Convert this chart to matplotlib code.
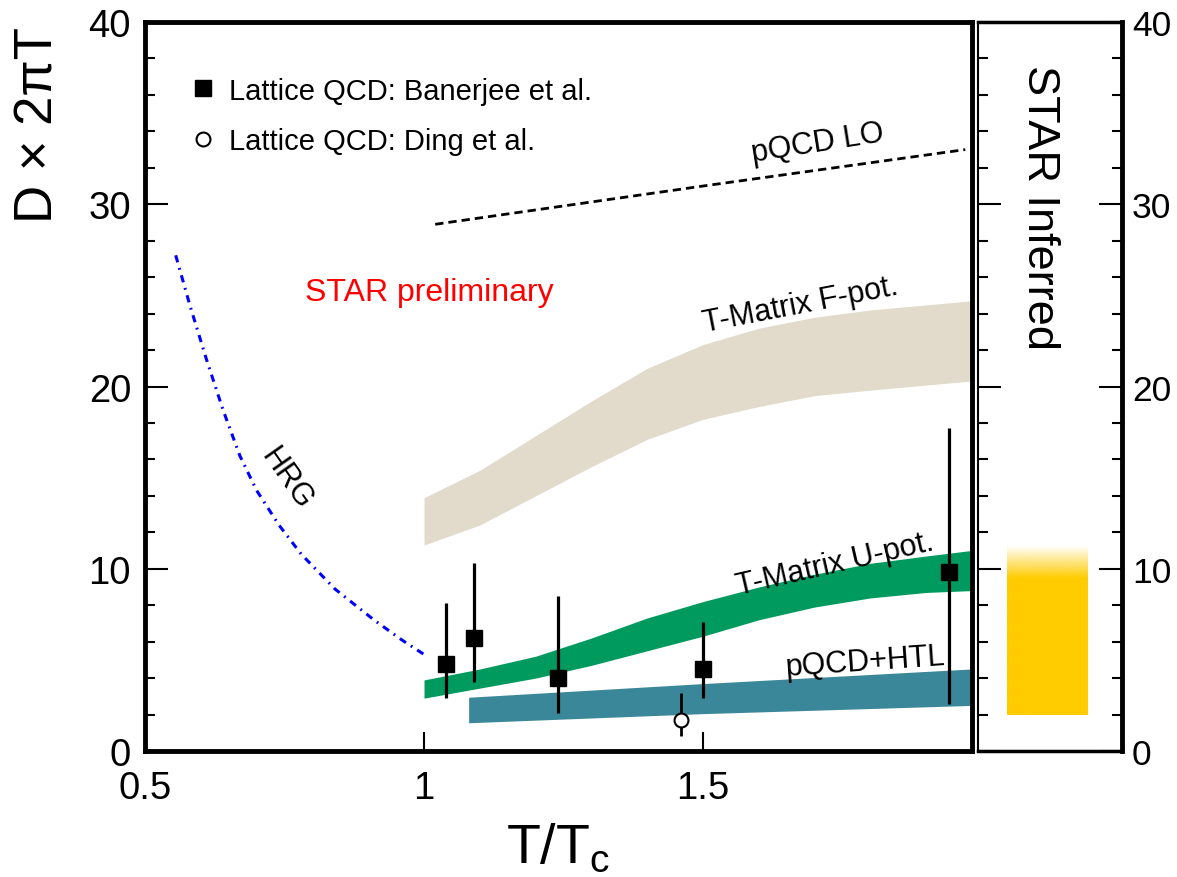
import numpy as np
import matplotlib
matplotlib.use('Agg')
import matplotlib.pyplot as plt
from matplotlib.ticker import MultipleLocator, FixedLocator

plt.rcParams['font.family'] = ['Liberation Sans', 'DejaVu Sans']

# HRG curve
hrg_t = [0.555, 0.58, 0.61, 0.64, 0.67, 0.70, 0.74, 0.78, 0.84, 0.91, 0.96, 1.0]
hrg_d = [27.2, 24.5, 21.5, 18.7, 16.2, 14.3, 12.4, 10.8, 8.9, 7.2, 6.1, 5.3]

# pQCD LO
lo_t = [1.02, 1.5, 1.97]
lo_d = [28.9, 31.0, 33.0]

# T-Matrix F-pot. band
f_t = [1.0, 1.1, 1.2, 1.3, 1.4, 1.5, 1.6, 1.7, 1.8, 1.98]
f_hi = [13.9, 15.4, 17.3, 19.2, 21.0, 22.3, 23.2, 23.8, 24.2, 24.7]
f_lo = [11.3, 12.4, 14.0, 15.6, 17.1, 18.2, 18.9, 19.5, 19.8, 20.3]

# T-Matrix U-pot. band
u_t = [1.0, 1.1, 1.2, 1.3, 1.4, 1.5, 1.6, 1.7, 1.8, 1.9, 1.98]
u_hi = [3.9, 4.5, 5.2, 6.2, 7.3, 8.2, 9.0, 9.7, 10.3, 10.7, 11.0]
u_lo = [2.9, 3.45, 4.0, 4.7, 5.5, 6.3, 7.2, 7.9, 8.4, 8.7, 8.8]

# pQCD+HTL band
h_t = [1.08, 1.5, 1.98]
h_hi = [2.95, 3.7, 4.5]
h_lo = [1.55, 2.05, 2.5]

# lattice points
ban_t = [1.04, 1.09, 1.24, 1.5, 1.94]
ban_d = [4.8, 6.2, 4.0, 4.5, 9.8]
ban_lo = [2.9, 3.8, 2.1, 2.9, 2.6]
ban_hi = [8.1, 10.3, 8.5, 7.1, 17.7]

ding_t = [1.46]
ding_d = [1.7]
ding_lo = [0.85]
ding_hi = [3.2]

# STAR inferred range (solid part, fading top)
star_lo = 2.0
star_solid = 9.5
star_hi = 11.3

fig = plt.figure(figsize=(11.77, 8.78), dpi=100)
ax = fig.add_axes([0.1232, 0.1435, 0.7026, 0.8303])
ax2 = fig.add_axes([0.8309, 0.1435, 0.1224, 0.8303])

ax.fill_between(f_t, f_lo, f_hi, color='#e2dbcc', lw=0, zorder=1)
ax.fill_between(u_t, u_lo, u_hi, color='#009a5e', lw=0, zorder=1)
ax.fill_between(h_t, h_lo, h_hi, color='#3b879a', lw=0, zorder=1)

ax.plot(hrg_t, hrg_d, color='#0000ff', lw=2.2, ls=(0, (2.4, 1.9, 0.6, 1.9)), zorder=2)
ax.plot(lo_t, lo_d, color='black', lw=2.0, ls=(0, (3.0, 1.8)), zorder=2)

ban_d_arr = np.array(ban_d)
ax.errorbar(ban_t, ban_d, yerr=[ban_d_arr - np.array(ban_lo), np.array(ban_hi) - ban_d_arr],
            fmt='none', ecolor='black', elinewidth=2.3, capsize=0, zorder=3)
ding_d_arr = np.array(ding_d)
ax.errorbar(ding_t, ding_d, yerr=[ding_d_arr - np.array(ding_lo), np.array(ding_hi) - ding_d_arr],
            fmt='none', ecolor='black', elinewidth=2.0, capsize=0, zorder=3)
sq, = ax.plot(ban_t, ban_d, 's', color='black', ms=11.5, zorder=4,
              label='Lattice QCD: Banerjee et al.')
ci, = ax.plot(ding_t, ding_d, 'o', mfc='white', mec='black', mew=1.5, ms=10, zorder=4,
              label='Lattice QCD: Ding et al.')

ax.legend(handles=[sq, ci], loc='upper left', bbox_to_anchor=(0.056, 0.925),
          frameon=False, fontsize=21, handlelength=0.8, handletextpad=0.5,
          labelspacing=0.78, borderpad=0, borderaxespad=0)

ax.text(1.706, 33.4, 'pQCD LO', fontsize=22, rotation=9, ha='center', va='center')
ax.text(1.674, 24.5, 'T-Matrix F-pot.', fontsize=22, rotation=11, ha='center', va='center')
ax.text(1.737, 10.3, 'T-Matrix U-pot.', fontsize=22, rotation=13, ha='center', va='center')
ax.text(1.79, 4.9, 'pQCD+HTL', fontsize=22, rotation=4, ha='center', va='center')
ax.text(0.754, 14.95, 'HRG', fontsize=22, rotation=-55, ha='center', va='center')
ax.text(0.787, 25.2, 'STAR preliminary', fontsize=23, color='#ff0000', ha='left', va='center')

ax.set_xlim(0.5, 1.982)
ax.set_ylim(0, 40)
ax.xaxis.set_major_locator(FixedLocator([0.5, 1.0, 1.5]))
ax.set_xticklabels(['0.5', '1', '1.5'])
ax.yaxis.set_major_locator(MultipleLocator(10))
ax.yaxis.set_minor_locator(MultipleLocator(2))
ax.tick_params(axis='y', which='major', direction='in', length=16.5, width=1.5,
               labelsize=27.5, pad=10)
ax.tick_params(axis='y', which='minor', direction='in', length=7, width=1.5)
ax.tick_params(axis='x', which='major', direction='in', length=14, width=1.5,
               labelsize=27.5, pad=13.5)
for s in ax.spines.values():
    s.set_linewidth(3.5)

ax.set_xlabel('T/T$_\\mathregular{c}$', fontsize=40)
ax.xaxis.set_label_coords(0.5, -0.097)
ax.xaxis.label.set_va('top')
ax.set_ylabel('D × 2πT', fontsize=38, loc='top')
ax.yaxis.set_label_coords(-0.099, 0.995)

# right panel
grad_y = np.linspace(star_lo, star_hi, 200)
alpha = np.clip((star_hi - grad_y) / (star_hi - star_solid), 0, 1)
rgba = np.zeros((200, 1, 4))
rgba[:, 0, 0] = 1.0
rgba[:, 0, 1] = 0.8
rgba[:, 0, 2] = 0.0
rgba[:, 0, 3] = alpha
ax2.imshow(rgba, extent=[0.2, 0.76, star_lo, star_hi], origin='lower', aspect='auto',
           interpolation='bilinear')
ax2.text(0.43, 29.9, 'STAR Inferred', fontsize=32.5, rotation=-90, ha='center', va='center')
ax2.set_xlim(0, 1)
ax2.set_ylim(0, 40)
ax2.set_xticks([])
ax2.yaxis.set_major_locator(MultipleLocator(10))
ax2.yaxis.set_minor_locator(MultipleLocator(2))
ax2.tick_params(axis='y', which='major', direction='in', length=16.5, width=1.5,
                left=True, right=True, labelleft=False, labelright=True, labelsize=25.5, pad=7)
ax2.tick_params(axis='y', which='minor', direction='in', length=7, width=1.5,
                left=True, right=True)
ax2.spines['left'].set_linewidth(1.5)
ax2.spines['top'].set_linewidth(2.5)
ax2.spines['bottom'].set_linewidth(2.5)
ax2.spines['right'].set_linewidth(3.5)

fig.savefig('out.png', dpi=100)
